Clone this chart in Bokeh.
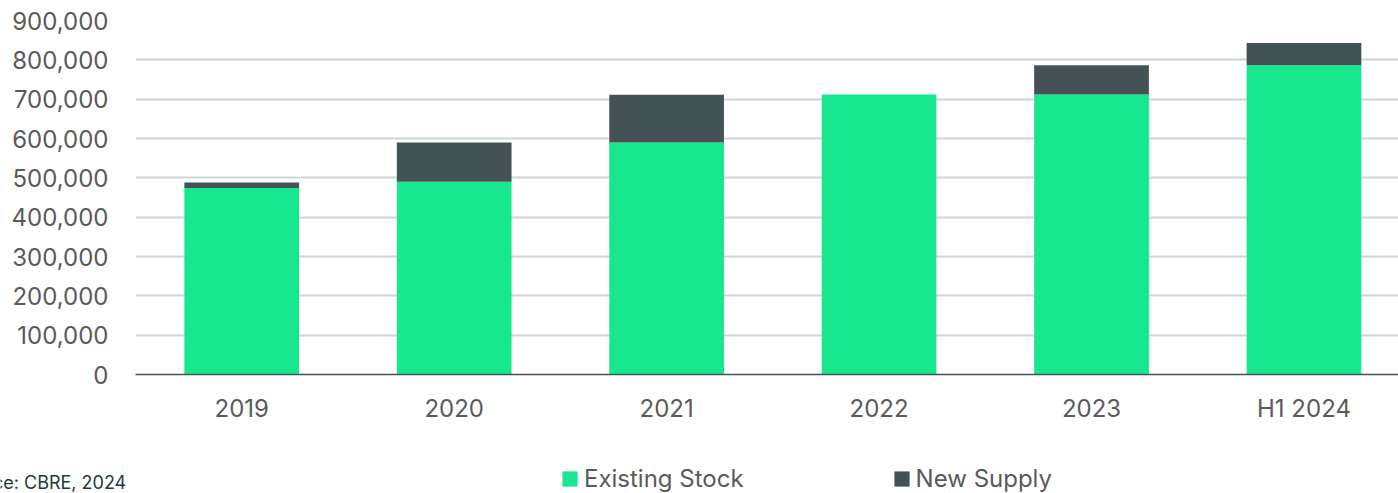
from bokeh.plotting import figure
from bokeh.models import (ColumnDataSource, Range1d, FixedTicker, NumeralTickFormatter,
                          Legend, LegendItem, Label)
from bokeh.embed import file_html
from bokeh.resources import INLINE

# ---- data ----
categories = ["2019", "2020", "2021", "2022", "2023", "H1 2024"]
existing_stock = [474000, 490000, 590000, 712000, 712000, 786000]
new_supply = [14000, 100000, 121000, 0, 74000, 57000]
y_ticks = [0, 100000, 200000, 300000, 400000, 500000, 600000, 700000, 800000, 900000]
series_names = ["Existing Stock", "New Supply"]
source_note = "Source: CBRE, 2024"

GREEN = "#17e88f"
DARK = "#435254"
LABEL = "#5a5a5a"
FONT = "Inter"
W = 1398

xpos = [i + 0.5 for i in range(len(categories))]
src = ColumnDataSource(dict(x=xpos, cat=categories, existing=existing_stock, new=new_supply))

p = figure(width=W, height=440, output_backend="svg", toolbar_location=None,
           x_range=Range1d(0, 5.945), y_range=Range1d(0, 900000),
           min_border_left=135, min_border_right=0, min_border_top=20, min_border_bottom=66)
p.outline_line_color = None

rs = p.vbar_stack(["existing", "new"], x="x", width=0.54, color=[GREEN, DARK],
                  line_color=None, source=src)

p.xaxis.ticker = FixedTicker(ticks=xpos)
p.xaxis.major_label_overrides = {x: c for x, c in zip(xpos, categories)}
p.xaxis.axis_line_color = DARK
p.xaxis.axis_line_width = 1.5
p.xaxis.major_tick_line_color = None
p.xaxis.minor_tick_line_color = None
p.xaxis.major_label_standoff = 13
p.xaxis.major_label_text_font = FONT
p.xaxis.major_label_text_font_size = "24px"
p.xaxis.major_label_text_color = LABEL

p.yaxis.ticker = FixedTicker(ticks=y_ticks)
p.yaxis.formatter = NumeralTickFormatter(format="0,0")
p.yaxis.axis_line_color = None
p.yaxis.major_tick_line_color = None
p.yaxis.minor_tick_line_color = None
p.yaxis.major_label_standoff = 21
p.yaxis.major_label_text_font = FONT
p.yaxis.major_label_text_font_size = "24px"
p.yaxis.major_label_text_color = LABEL

p.xgrid.grid_line_color = None
p.ygrid.grid_line_color = "#cfd6d6"
p.ygrid.grid_line_width = 2

# ---- footer: legend + source ----
FH = 53
f = figure(width=W, height=FH, output_backend="svg", toolbar_location=None,
           x_range=Range1d(0, W), y_range=Range1d(0, FH),
           min_border_left=0, min_border_right=0, min_border_top=0, min_border_bottom=0)
f.axis.visible = False
f.grid.visible = False
f.outline_line_color = None
# zero-size swatch carriers for the legend (not visible themselves)
sw1 = f.vbar(x=[-10], top=[0], bottom=[0], width=0, fill_color=GREEN, line_color=None)
sw2 = f.vbar(x=[-10], top=[0], bottom=[0], width=0, fill_color=DARK, line_color=None)

legend = Legend(items=[LegendItem(label=series_names[0], renderers=[sw1]),
                       LegendItem(label=series_names[1], renderers=[sw2])],
                orientation="horizontal", location=(560, 0),
                glyph_width=19, glyph_height=19, label_height=29, label_standoff=5, spacing=148,
                padding=0, margin=0, border_line_color=None, background_fill_alpha=0,
                label_text_font=FONT, label_text_font_size="24px",
                label_text_color=LABEL)
f.add_layout(legend, "center")

note = Label(x=-47, y=11, text=source_note, text_baseline="alphabetic",
             text_font=FONT, text_font_size="18px", text_color="#1d3b3b")
f.add_layout(note)

open("out.html", "w").write(file_html([p, f], INLINE))
